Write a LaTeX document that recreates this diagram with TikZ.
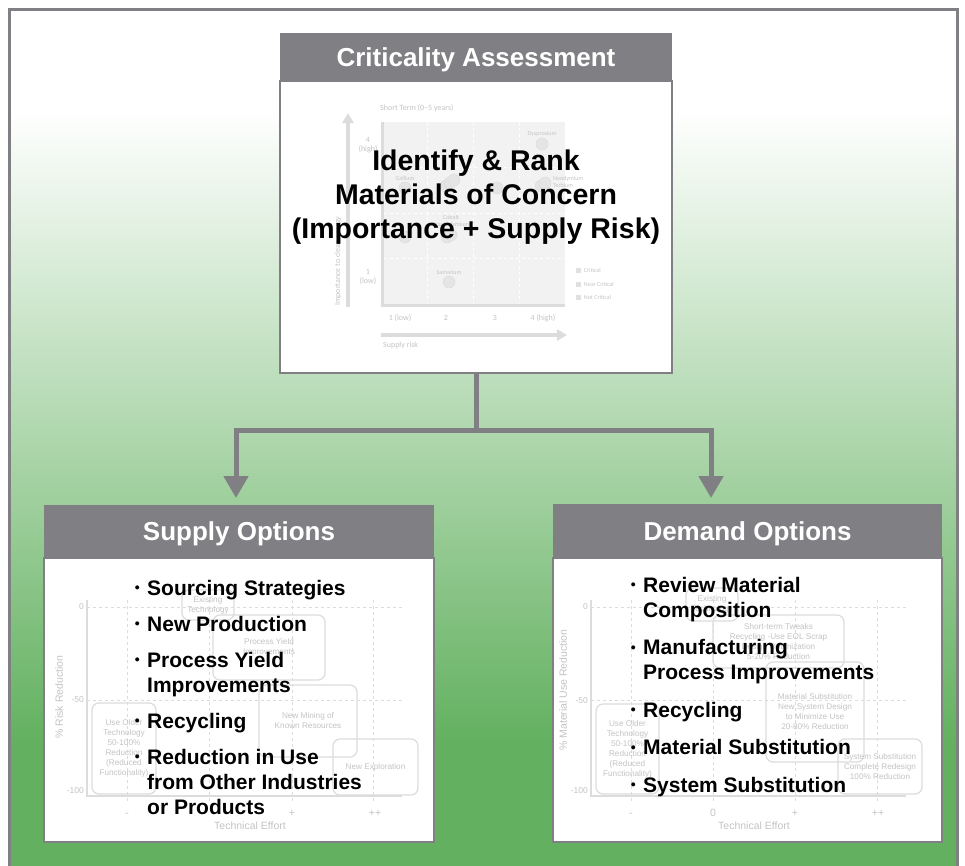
\documentclass[tikz,border=0pt]{standalone}
\usepackage{fontspec}
\setmainfont{Liberation Sans}
\newfontfamily\chartfont{Carlito}
\usetikzlibrary{arrows.meta,positioning}

\definecolor{boxgray}{HTML}{808084}
\definecolor{bggreen}{HTML}{63B160}
\definecolor{faint}{HTML}{C4C4C4}
\definecolor{faintline}{HTML}{DCDCDC}
\definecolor{faintfill}{HTML}{F2F2F2}

\newcommand{\optdot}{\llap{\raisebox{2.5pt}{\fontsize{14}{14}\selectfont •}\hspace{7.5pt}}}

\tikzset{
  header/.style={fill=boxgray, text=white, inner sep=0, text height=18.6pt, text depth=0pt,
    font=\fontsize{26}{30}\selectfont\bfseries},
  panel/.style={fill=white, draw=boxgray, line width=2.5pt, inner sep=0},
  optlist/.style={align=left, inner sep=0, font=\fontsize{21}{25}\selectfont\bfseries},
  conn/.style={draw=boxgray, line width=5pt},
  tip/.style={-{Triangle[width=24pt,length=22pt]}},
  ghosttop/.style={text=faint, inner sep=0, font=\chartfont\fontsize{8}{9.5}\selectfont},
  ghosttiny/.style={text=faint, inner sep=1pt, font=\chartfont\fontsize{6}{7}\selectfont},
  dot/.style={circle, fill=black!10, draw=black!14, minimum size=12pt, inner sep=0},
  legsq/.style={fill=black!12, minimum size=5pt, inner sep=0},
  ghost/.style={text=faint, inner sep=0, font=\fontsize{8.5}{10}\selectfont},
  axislbl/.style={text=faint, inner sep=0, font=\fontsize{10.5}{12}\selectfont},
  ghostbox/.style={draw=faintline, rounded corners=7pt, line width=1.2pt, text=faint,
    align=center, inner sep=0, font=\fontsize{8.2}{10}\selectfont},
}

\begin{document}
\begin{tikzpicture}[x=1pt, y=-1pt]
    \useasboundingbox (0,0) rectangle (965,865);

    %Background and frame
    \fill[white] (0,0) rectangle (965,865);
    \shade[top color=white, bottom color=bggreen] (9,110) rectangle (957,741);
    \fill[bggreen] (9,740) rectangle (957,870);
    \draw[boxgray, line width=3pt] (9,880) |- (957,9) -- (957,880);

    %Top box
    \node[panel, minimum width=392, minimum height=292] (critbody) at (476,227) {};
    \node[header, minimum width=392, minimum height=48] (crithead) at (476,57) {Criticality Assessment};

    %Ghost chart behind the top text
    \fill[faintfill] (383,122) rectangle (565,304);
    \foreach \gx in {427,473,519}
        \draw[white, dashed, line width=1pt] (\gx,122) -- (\gx,303);
    \foreach \gy in {167,213,258}
        \draw[white, dashed, line width=1pt] (384,\gy) -- (565,\gy);
    \draw[faintline, line width=3pt] (382,122) |- (565,305);
    \coordinate (impbot) at (348,307);
    \coordinate (imptop) at (348,113);
    \coordinate (riskleft) at (381,335);
    \coordinate (riskright) at (567,335);
    \draw[faintline, line width=3.5pt, -{Triangle[width=11pt,length=10pt]}] (impbot) -- (imptop);
    \draw[faintline, line width=3.5pt, -{Triangle[width=11pt,length=10pt]}] (riskleft) -- (riskright);
    \node[ghosttop, anchor=west] (termlbl) at (380,108) {Short Term (0–5 years)};
    \node[ghosttop, rotate=90, anchor=west] (implbl) at (338,306) {Importance to clean energy};
    \node[ghosttop, align=center] (yhigh) at (368,145) {4\\(high)};
    \node[ghosttop, align=center] (ylow) at (368,277) {1\\(low)};
    \node[ghosttop] (xone) at (400,318) {1 (low)};
    \node[ghosttop] (xtwo) at (446,318) {2};
    \node[ghosttop] (xthree) at (495,318) {3};
    \node[ghosttop] (xfour) at (543,318) {4 (high)};
    \node[ghosttop, anchor=west] (risklbl) at (383,345) {Supply risk};
    \node[dot, label={[ghosttiny]above:Dysprosium}] (dysp) at (542,144) {};
    \node[dot, label={[ghosttiny]above:Gallium}] (gall) at (405,188) {};
    \node[dot] (ina) at (446,186) {};
    \node[dot] (inb) at (450,183) {};
    \node[dot] (inc) at (454,180) {};
    \node[dot] (ytt) at (497,188) {};
    \node[dot] (neoa) at (541,186) {};
    \node[dot] (neob) at (545,183) {};
    \node[ghosttiny, anchor=west, align=left] (neolbl) at (552,182) {Neodymium\\Terbium};
    \node[dot] (lith) at (405,237) {};
    \node[dot] (coba) at (447,237) {};
    \node[dot, label={[ghosttiny, align=center]above:Cobalt\\Praseodymium}] (cobb) at (451,235) {};
    \node[dot, label={[ghosttiny]above:Samarium}] (sama) at (449,282) {};
    \node[legsq] (legcrit) at (578,270) {};
    \node[legsq] (legnear) at (578,284) {};
    \node[legsq] (legnot) at (578,297) {};
    \node[ghosttiny, right=2pt of legcrit] (critlbl) {Critical};
    \node[ghosttiny, right=2pt of legnear] (nearlbl) {Near Critical};
    \node[ghosttiny, right=2pt of legnot] (notlbl) {Not Critical};

    \node[align=center, inner sep=0, font=\fontsize{28.5}{34}\selectfont\bfseries] (concern)
        at (476,197) {Identify \& Rank\\Materials of Concern\\(Importance + Supply Risk)};

    %Connectors
    \coordinate (split) at (476,430);
    \coordinate (supplytip) at (236,498);
    \coordinate (demandtip) at (711,498);
    \draw[conn] (critbody.south) -- (split);
    \draw[conn, tip] (split) -| (supplytip);
    \draw[conn, tip] (split) -| (demandtip);

    %Supply box
    \node[panel, minimum width=390, minimum height=284] (supplybody) at (239,700) {};
    \node[header, minimum width=390, minimum height=53] (supplyhead) at (239,531.5) {Supply Options};

    \foreach \gx in {127,209,292,373}
        \draw[faintline, dashed] (\gx,600) -- (\gx,802);
    \foreach \gy in {607,700}
        \draw[faintline, dashed] (87,\gy) -- (402,\gy);
    \draw[faintline, line width=1.2pt] (87,600) |- (402,796);
    \node[ghost, anchor=east] (syzero) at (84,607) {0};
    \node[ghost, anchor=east] (syfifty) at (84,700) {-50};
    \node[ghost, anchor=east] (syhund) at (84,791) {-100};
    \node[axislbl, anchor=base] (sxminus) at (127,816) {-};
    \node[axislbl, anchor=base] (sxplus) at (292,816) {+};
    \node[axislbl, anchor=base] (sxpp) at (375,816) {++};
    \node[axislbl] (seffort) at (250,826) {Technical Effort};
    \node[axislbl, rotate=90] (sreduce) at (59,697) {\% Risk Reduction};
    \node[ghostbox, minimum width=52, minimum height=30] (sexist) at (208,605) {Existing\\Technology};
    \node[ghostbox, minimum width=112, minimum height=65] (syield) at (269,647.5) {Process Yield\\Improvements};
    \node[ghostbox, minimum width=98, minimum height=72] (smining) at (308,721) {New Mining of\\Known Resources};
    \node[ghostbox, minimum width=85, minimum height=56] (sexplore) at (375.5,767) {New Exploration};
    \node[ghostbox, minimum width=64, minimum height=91] (solder) at (124,748.5)
        {Use Older\\Technology\\50-100\%\\Reduction\\(Reduced\\Functionality)};

    \node[optlist, anchor=north west] (supplylist) at (147,580)
        {\optdot Sourcing Strategies\\[11pt]\optdot New Production\\[11pt]\optdot Process Yield\\Improvements\\[11pt]\optdot Recycling\\[11pt]\optdot Reduction in Use\\from Other Industries\\or Products};

    %Demand box
    \node[panel, minimum width=389, minimum height=284] (demandbody) at (747.5,700) {};
    \node[header, minimum width=389, minimum height=54] (demandhead) at (747.5,531) {Demand Options};

    \foreach \gx in {631,713,795,877}
        \draw[faintline, dashed] (\gx,600) -- (\gx,802);
    \foreach \gy in {607,700}
        \draw[faintline, dashed] (591,\gy) -- (906,\gy);
    \draw[faintline, line width=1.2pt] (591,600) |- (906,796);
    \node[ghost, anchor=east] (dyzero) at (588,607) {0};
    \node[ghost, anchor=east] (dyfifty) at (588,701) {-50};
    \node[ghost, anchor=east] (dyhund) at (588,791) {-100};
    \node[axislbl, anchor=base] (dxminus) at (631,816) {-};
    \node[axislbl, anchor=base] (dxzero) at (713,816) {0};
    \node[axislbl, anchor=base] (dxplus) at (795,816) {+};
    \node[axislbl, anchor=base] (dxpp) at (878,816) {++};
    \node[axislbl] (deffort) at (754,826) {Technical Effort};
    \node[axislbl, rotate=90] (dreduce) at (563,690) {\% Material Use Reduction};
    \node[ghostbox, minimum width=52, minimum height=33] (dexist) at (712,604.5) {Existing\\Technology};
    \node[ghostbox, minimum width=131, minimum height=53] (dtweak) at (778.5,641.5)
        {Short-term Tweaks\\Recycling -Use EOL Scrap\\Design Optimization\\5-20\% Reduction};
    \node[ghostbox, minimum width=98, minimum height=100] (dmatsub) at (815,712)
        {Material Substitution\\New System Design\\to Minimize Use\\20-80\% Reduction};
    \node[ghostbox, minimum width=84, minimum height=55] (dsyssub) at (880,766.5)
        {System Substitution\\Complete Redesign\\100\% Reduction};
    \node[ghostbox, minimum width=63, minimum height=90] (dolder) at (627.5,749)
        {Use Older\\Technology\\50-100\%\\Reduction\\(Reduced\\Functionality)};

    \node[optlist, anchor=north west] (demandlist) at (643,577)
        {\optdot Review Material\\Composition\\[12.5pt]\optdot Manufacturing\\Process Improvements\\[12.5pt]\optdot Recycling\\[12.5pt]\optdot Material Substitution\\[12.5pt]\optdot System Substitution};

\end{tikzpicture}
\end{document}
